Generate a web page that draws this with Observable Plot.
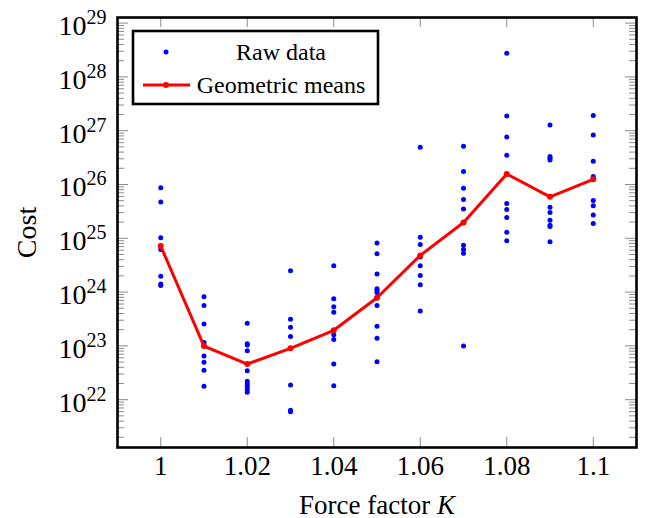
<!DOCTYPE html>
<html>
<head>
<meta charset="utf-8">
<script src="https://cdn.jsdelivr.net/npm/d3@7"></script>
<script src="https://cdn.jsdelivr.net/npm/@observablehq/plot@0.6"></script>
<style>
  body { margin: 0; background: #fff; }
  #chart { width: 645px; height: 518px; }
  svg text { font-family: "Liberation Serif", "Times New Roman", serif; }
</style>
</head>
<body>
<div id="chart"></div>
<script>
// ---- data ----
const forceFactors = [1, 1.01, 1.02, 1.03, 1.04, 1.05, 1.06, 1.07, 1.08, 1.09, 1.1];

const raw_1_00 = [8.65e25, 4.75e25, 1.02e25, 6.21e24, 1.96e24, 1.41e24, 1.33e24];
const raw_1_01 = [8.18e23, 5.66e23, 2.55e23, 1.15e23, 6.47e22, 4.94e22, 3.52e22, 1.77e22];
const raw_1_02 = [2.62e23, 1.10e23, 1.04e23, 8.13e22, 3.46e22, 2.20e22, 1.96e22, 1.77e22, 1.56e22, 1.37e22];
const raw_1_03 = [2.49e24, 3.11e23, 2.21e23, 1.50e23, 1.87e22, 6.35e21, 5.98e21];
const raw_1_04 = [3.08e24, 7.52e23, 5.33e23, 4.20e23, 1.61e23, 1.32e23, 4.60e22, 1.82e22];
const raw_1_05 = [8.13e24, 5.14e24, 2.16e24, 1.15e24, 1.08e24, 9.86e23, 5.66e23, 2.31e23, 1.38e23, 5.08e22];
const raw_1_06 = [4.93e26, 1.05e25, 7.69e24, 4.47e24, 3.08e24, 2.04e24, 1.37e24, 4.44e23];
const raw_1_07 = [5.13e26, 1.74e26, 8.53e25, 5.26e25, 3.52e25, 7.41e24, 6.17e24, 5.25e24, 9.93e22];
const raw_1_08 = [2.74e28, 1.88e27, 7.66e26, 3.50e26, 4.44e25, 3.44e25, 2.44e25, 1.29e25, 8.97e24];
const raw_1_09 = [1.28e27, 3.31e26, 3.08e26, 2.86e26, 3.78e25, 3.02e25, 2.17e25, 1.75e25, 1.66e25, 8.59e24];
const raw_1_10 = [1.91e27, 8.34e26, 2.71e26, 1.41e26, 5.05e25, 4.01e25, 2.72e25, 1.89e25];

const geometricMeans = [7.16e24, 9.93e22, 4.60e22, 9.02e22, 1.95e23, 7.83e23, 4.81e24, 1.97e25, 1.57e26, 5.89e25, 1.25e26];

const xTickValues = [1, 1.02, 1.04, 1.06, 1.08, 1.1];
const xTickLabels = ["1", "1.02", "1.04", "1.06", "1.08", "1.1"];
const yTickExponents = [22, 23, 24, 25, 26, 27, 28, 29];
const legendLabels = ["Raw data", "Geometric means"];
const xLabel = "Force factor K";
const yLabel = "Cost";

// ---- tables built from the arrays ----
const rawGroups = [raw_1_00, raw_1_01, raw_1_02, raw_1_03, raw_1_04, raw_1_05, raw_1_06, raw_1_07, raw_1_08, raw_1_09, raw_1_10];
const rawTable = rawGroups.flatMap((vals, i) => vals.map(v => ({k: forceFactors[i], cost: v})));
const meanTable = forceFactors.map((k, i) => ({k, cost: geometricMeans[i]}));

const yMajor = yTickExponents.map(e => Math.pow(10, e));
const yMinor = [];
for (let e = 21; e <= 29; e++) for (let m = 2; m <= 9; m++) yMinor.push(m * Math.pow(10, e));

const W = 645, H = 518, mL = 117, mR = 9, mT = 17, mB = 71;
const pw = W - mL - mR, ph = H - mT - mB;
const yDomain = [Math.pow(10, 21.111), Math.pow(10, 29.104)];
const yMinorIn = yMinor.filter(v => v >= yDomain[0] && v <= yDomain[1]);
const tickGray = "#8c8c8c";

const chart = Plot.plot({
  width: W, height: H,
  marginLeft: mL, marginRight: mR, marginTop: mT, marginBottom: mB,
  style: {fontFamily: '"Liberation Serif", "Times New Roman", serif', fontSize: "27px", background: "white", color: "black"},
  x: {domain: [0.99, 1.11]},
  y: {type: "log", domain: yDomain},
  marks: [
    // inward ticks (left/right minor and major, bottom/top)
    Plot.tickY(yMinorIn, {y: d => d, stroke: tickGray, strokeWidth: 1, insetRight: pw - 7}),
    Plot.tickY(yMinorIn, {y: d => d, stroke: tickGray, strokeWidth: 1, insetLeft: pw - 7}),
    Plot.tickY(yMajor, {y: d => d, stroke: tickGray, strokeWidth: 1, insetRight: pw - 11}),
    Plot.tickY(yMajor, {y: d => d, stroke: tickGray, strokeWidth: 1, insetLeft: pw - 11}),
    Plot.tickX(xTickValues, {x: d => d, stroke: tickGray, strokeWidth: 1, insetTop: ph - 10}),
    Plot.tickX(xTickValues, {x: d => d, stroke: tickGray, strokeWidth: 1, insetBottom: ph - 10}),
    Plot.axisY({ticks: yMajor, tickSize: 0, tickPadding: 11, dy: 3, fontSize: 28,
      tickFormat: d => "10^" + Math.round(Math.log10(d)),
      label: yLabel, labelAnchor: "center", labelOffset: 101, labelArrow: "none"}),
    Plot.axisX({ticks: xTickValues, tickSize: 0, tickPadding: 8, fontSize: 27,
      tickFormat: d => xTickLabels[xTickValues.indexOf(d)],
      label: xLabel, labelAnchor: "center", labelOffset: 66, labelArrow: "none"}),
    Plot.dot(rawTable, {x: "k", y: "cost", r: 2.5, fill: "#0000ff", stroke: "none"}),
    Plot.line(meanTable, {x: "k", y: "cost", stroke: "#ff0000", strokeWidth: 3}),
    Plot.dot(meanTable, {x: "k", y: "cost", r: 3, fill: "#ff0000", stroke: "none"}),
    Plot.frame({stroke: "black", strokeWidth: 2.6})
  ]
});

document.getElementById("chart").appendChild(chart);
const svg = d3.select(chart);

// superscript exponents on the y tick labels
svg.selectAll('g[aria-label="y-axis tick label"] text').each(function() {
  const t = d3.select(this);
  const s = t.text();
  const exp = s.split("^")[1];
  t.text(null);
  t.append("tspan").text("10");
  t.append("tspan").attr("dy", "-11").attr("font-size", "20px").text(exp);
});

// italic K in the x label
svg.selectAll('g[aria-label="x-axis label"] text').each(function() {
  const t = d3.select(this);
  t.text(null);
  t.append("tspan").text("Force factor ");
  t.append("tspan").attr("font-style", "italic").text("K");
});

// legend
const lg = svg.append("g").attr("font-family", '"Liberation Serif", "Times New Roman", serif').attr("font-size", "24px");
lg.append("rect").attr("x", 133).attr("y", 31).attr("width", 245).attr("height", 73)
  .attr("fill", "white").attr("stroke", "black").attr("stroke-width", 2.6);
const rowY = [52, 85];
lg.append("circle").attr("cx", 166).attr("cy", rowY[0]).attr("r", 2.5).attr("fill", "#0000ff");
lg.append("line").attr("x1", 143).attr("x2", 190).attr("y1", rowY[1]).attr("y2", rowY[1])
  .attr("stroke", "#ff0000").attr("stroke-width", 3);
lg.append("circle").attr("cx", 166).attr("cy", rowY[1]).attr("r", 3).attr("fill", "#ff0000");
legendLabels.forEach((lab, i) => {
  lg.append("text").attr("x", 281).attr("y", rowY[i]).attr("dy", "0.33em")
    .attr("text-anchor", "middle").attr("fill", "black").text(lab);
});
</script>
</body>
</html>
